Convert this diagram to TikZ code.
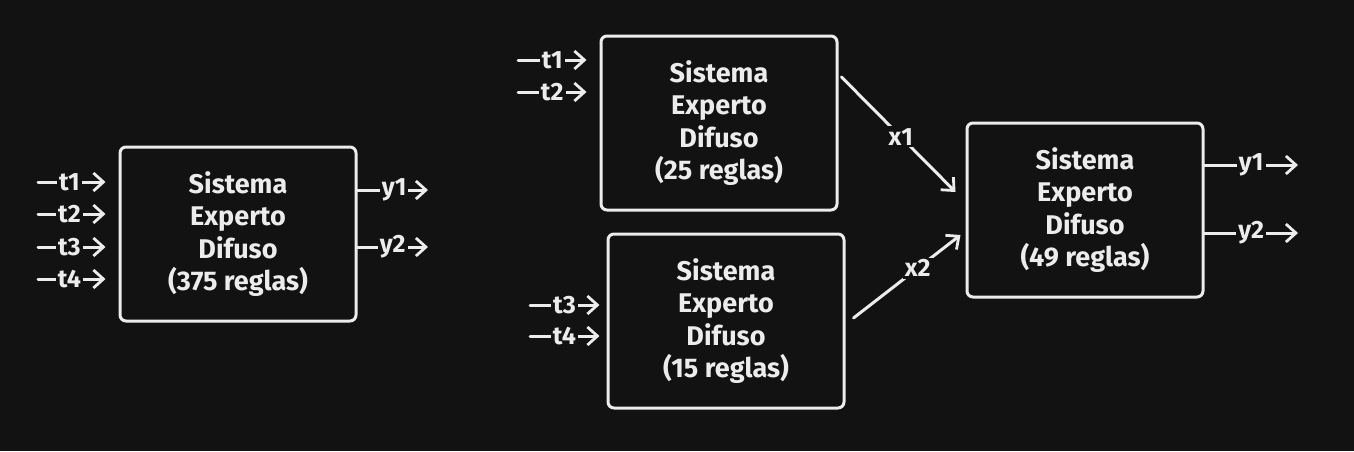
\documentclass[tikz,border=0pt]{standalone}
\usepackage{fontspec}
\setmainfont{Fira Sans}
\usetikzlibrary{arrows.meta,calc}
\definecolor{bg}{HTML}{121212}
\definecolor{fg}{HTML}{ECECEC}
\tikzset{
  sysbox/.style={draw=fg, line width=3pt, rounded corners=6pt, fill=bg,
    minimum width=236pt, minimum height=174pt, text=fg, align=center,
    font=\fontsize{27}{32.5}\selectfont\bfseries},
  arr/.style={draw=fg, line width=3pt, line cap=round,
    -{Straight Barb[length=10pt,width=18pt,line width=2.8pt]}},
  lbl/.style={fill=bg, text=fg, inner sep=2pt, font=\fontsize{25}{27}\selectfont\bfseries},
}
\begin{document}
\begin{tikzpicture}[x=1pt,y=-1pt]
\fill[bg] (0,0) rectangle (1354,451);
\useasboundingbox (0,0) rectangle (1354,451);

\node[sysbox] (A) at (238,234) {Sistema\\Experto\\Difuso\\(375 reglas)};
\node[sysbox] (B) at (719,123) {Sistema\\Experto\\Difuso\\(25 reglas)};
\node[sysbox] (C) at (726,321) {Sistema\\Experto\\Difuso\\(15 reglas)};
\node[sysbox] (D) at (1085,210) {Sistema\\Experto\\Difuso\\(49 reglas)};

% inputs of A
\coordinate (a1) at (38,182);
\coordinate (a2) at (38,214);
\coordinate (a3) at (38,247);
\coordinate (a4) at (38,279);
\foreach \c/\t in {a1/t1,a2/t2,a3/t3,a4/t4}
  \draw[arr, shorten >=13pt] (\c) -- node[lbl, pos=0.39] {\t} (\c -| A.west);

% outputs of A
\coordinate (ay1) at (428,190);
\coordinate (ay2) at (428,247);
\draw[arr] (ay1 -| A.east) -- node[lbl, pos=0.52] {y1} (ay1);
\draw[arr] (ay2 -| A.east) -- node[lbl, pos=0.5] {y2} (ay2);

% inputs of B
\coordinate (b1) at (518,60);
\coordinate (b2) at (518,92);
\draw[arr, shorten >=13pt] (b1) -- node[lbl, pos=0.42] {t1} (b1 -| B.west);
\draw[arr, shorten >=13pt] (b2) -- node[lbl, pos=0.42] {t2} (b2 -| B.west);

% inputs of C
\coordinate (c3) at (530,305);
\coordinate (c4) at (530,336);
\draw[arr, shorten >=7pt] (c3) -- node[lbl, pos=0.45] {t3} (c3 -| C.west);
\draw[arr, shorten >=7pt] (c4) -- node[lbl, pos=0.45] {t4} (c4 -| C.west);

% links to D
\draw[arr] ($(B.east)+(3,-46)$) -- node[lbl, pos=0.52] {x1} ($(D.west)+(-10,-18)$);
\draw[arr] ($(C.east)+(8,-3)$) -- node[lbl, pos=0.6] {x2} ($(D.west)+(-5,25)$);

% outputs of D
\coordinate (dy1) at (1298,165);
\coordinate (dy2) at (1298,233);
\draw[arr] (dy1 -| D.east) -- node[lbl, pos=0.5] {y1} (dy1);
\draw[arr] (dy2 -| D.east) -- node[lbl, pos=0.5] {y2} (dy2);
\end{tikzpicture}
\end{document}
